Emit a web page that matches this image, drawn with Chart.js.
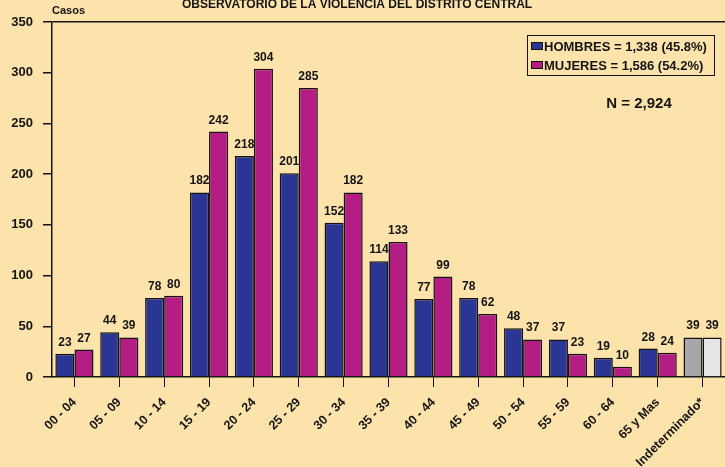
<!DOCTYPE html>
<html>
<head>
<meta charset="utf-8">
<script src="https://cdn.jsdelivr.net/npm/chart.js@4/dist/chart.umd.min.js"></script>
<style>
  html, body { margin: 0; padding: 0; background: #fbe3ab; }
  canvas { display: block; }
</style>
</head>
<body>
<canvas id="myChart" width="725" height="467"></canvas>
<script>
const categories = ["00 - 04", "05 - 09", "10 - 14", "15 - 19", "20 - 24", "25 - 29", "30 - 34",
  "35 - 39", "40 - 44", "45 - 49", "50 - 54", "55 - 59", "60 - 64", "65 y Mas", "Indeterminado*"];
const hombres = [23, 44, 78, 182, 218, 201, 152, 114, 77, 78, 48, 37, 19, 28, 39];
const mujeres = [27, 39, 80, 242, 304, 285, 182, 133, 99, 62, 37, 23, 10, 24, 39];
const seriesLabels = ["HOMBRES = 1,338 (45.8%)", "MUJERES = 1,586 (54.2%)"];
const titleText = "OBSERVATORIO DE LA VIOLENCIA DEL DISTRITO CENTRAL";
const totalText = "N = 2,924";

const FONT = "'Liberation Sans', Arial, sans-serif";
const INK = "#141414";
const BLUE = "#2b3594";
const MAGENTA = "#b41e84";

// last category (Indeterminado*) is drawn in greys
const blueColors = categories.map((c, i) => i === categories.length - 1 ? "#a7a7a9" : BLUE);
const magentaColors = categories.map((c, i) => i === categories.length - 1 ? "#e6e6e6" : MAGENTA);

const decorPlugin = {
    id: "decor",
    afterDatasetsDraw(chart) {
        const c = chart.ctx;
        c.save();
        c.fillStyle = INK;
        c.font = "bold 12px " + FONT;
        c.textAlign = "center";
        c.textBaseline = "alphabetic";
        chart.data.datasets.forEach((ds, di) => {
            chart.getDatasetMeta(di).data.forEach((bar, i) => {
                c.fillText(String(ds.data[i]), bar.x, bar.y - 8);
            });
        });

        // title and axis caption
        c.font = "bold 12px " + FONT;
        c.fillText(titleText, 357, 8);
        c.textAlign = "left";
        c.font = "bold 11px " + FONT;
        c.fillText("Casos", 52, 14);

        // legend box
        c.strokeStyle = INK;
        c.lineWidth = 1;
        c.strokeRect(527.5, 35.5, 187, 40);
        c.font = "bold 13px " + FONT;
        c.textBaseline = "middle";
        const legendColors = [BLUE, MAGENTA];
        seriesLabels.forEach((lab, i) => {
            const y = 46 + i * 19;
            c.fillStyle = legendColors[i];
            c.fillRect(531, y - 4, 12, 8);
            c.strokeRect(531.5, y - 3.5, 11, 7);
            c.fillStyle = INK;
            c.fillText(lab, 544, y + 1);
        });

        c.font = "bold 15px " + FONT;
        c.textAlign = "center";
        c.fillText(totalText, 639, 104);
        c.restore();
    }
};

new Chart(document.getElementById("myChart"), {
    type: "bar",
    data: {
        labels: categories,
        datasets: [
            {
                label: seriesLabels[0],
                data: hombres,
                backgroundColor: blueColors,
                borderColor: INK,
                borderWidth: 1.5,
                categoryPercentage: 0.85,
                barPercentage: 1,
            },
            {
                label: seriesLabels[1],
                data: mujeres,
                backgroundColor: magentaColors,
                borderColor: INK,
                borderWidth: 1.5,
                categoryPercentage: 0.85,
                barPercentage: 1,
            },
        ],
    },
    options: {
        responsive: false,
        animation: false,
        layout: { padding: { top: 22, right: 0, left: 0, bottom: 0 } },
        scales: {
            x: {
                offset: true,
                grid: {
                    offset: false,
                    drawOnChartArea: false,
                    tickLength: 10,
                    color: INK,
                },
                border: { color: INK, width: 1.5 },
                ticks: {
                    autoSkip: false,
                    minRotation: 45,
                    maxRotation: 45,
                    padding: 8,
                    color: INK,
                    font: { family: FONT, size: 12.5, weight: "bold" },
                },
                afterFit(scale) { scale.height = 90; },
            },
            y: {
                min: 0,
                max: 350,
                grid: {
                    color: (ctx) => ctx.tick && ctx.tick.value === 350 ? INK : "rgba(0,0,0,0)",
                    tickColor: INK,
                    tickLength: 9,
                    lineWidth: 1.5,
                },
                border: { color: INK, width: 1.5 },
                ticks: {
                    stepSize: 50,
                    padding: 10,
                    color: INK,
                    font: { family: FONT, size: 13, weight: "bold" },
                },
                afterFit(scale) { scale.width = 52; },
            },
        },
        plugins: {
            legend: { display: false },
            tooltip: { enabled: false },
        },
    },
    plugins: [decorPlugin],
});
</script>
</body>
</html>
